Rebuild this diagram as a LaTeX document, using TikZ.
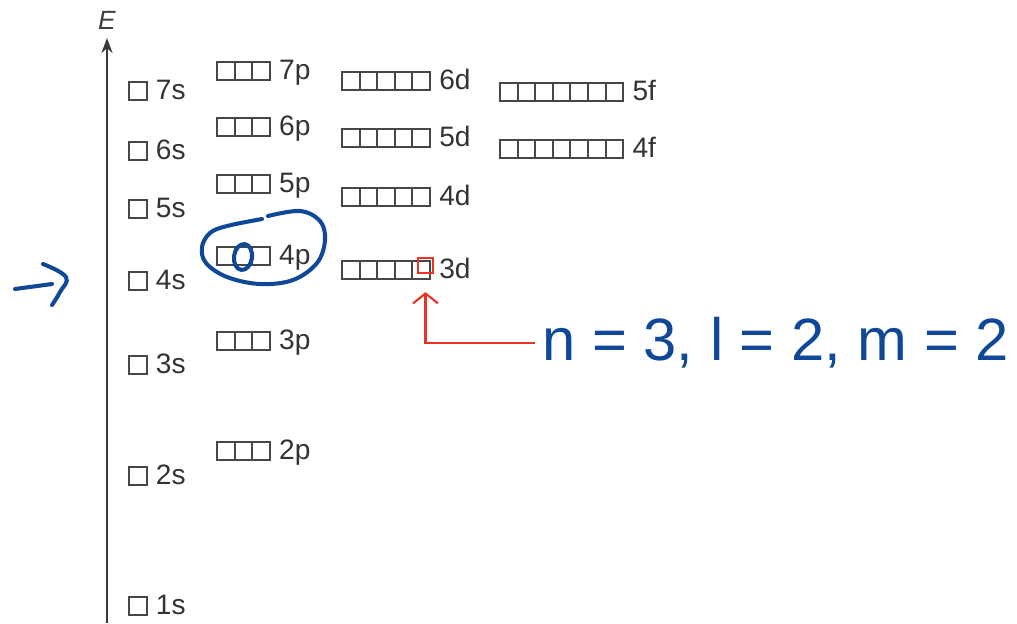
\documentclass[tikz,border=0pt]{standalone}
\usepackage{fontspec}
\setmainfont{Liberation Sans}
\usetikzlibrary{arrows.meta}
\definecolor{pen}{RGB}{14,72,150}
\definecolor{redmark}{RGB}{232,52,40}

% one row of orbital boxes: name, x, y, boxes, label
\newcommand{\orbrow}[5]{%
  \foreach \k in {1,...,#4}
    \draw[orb] ({#2+(\k-1)*17.6},{#3-8.6}) rectangle ++(17.6,17.2);
  \node[lbl] (#1) at ({#2+#4*17.6+9},{#3+8.5}) {#5};
}

\begin{document}
\begin{tikzpicture}[x=0.02cm,y=-0.02cm,
  orb/.style={draw=black!72,line width=1.1pt},
  lbl/.style={anchor=base west,inner sep=0pt,text=black!80,font=\fontsize{16}{18}\selectfont},
  ink/.style={draw=pen,line width=2.3pt,line cap=round,line join=round}]

\useasboundingbox (0,0) rectangle (1017,623);

% energy axis
\draw[black!78,line width=1.4pt,-{Stealth[length=3mm,width=2.2mm]}] (107,623) -- (107,38);
\node[text=black!75,font=\fontsize{15}{17}\selectfont\itshape] (E) at (107,20) {E};

% s levels
\orbrow{s7}{129}{91}{1}{7s}
\orbrow{s6}{129}{151}{1}{6s}
\orbrow{s5}{129}{209}{1}{5s}
\orbrow{s4}{129}{281}{1}{4s}
\orbrow{s3}{129}{365}{1}{3s}
\orbrow{s2}{129}{476}{1}{2s}
\orbrow{s1}{129}{606}{1}{1s}

% p levels
\orbrow{p7}{217}{71}{3}{7p}
\orbrow{p6}{217}{127}{3}{6p}
\orbrow{p5}{217}{184}{3}{5p}
\orbrow{p4}{217}{256}{3}{4p}
\orbrow{p3}{217}{341}{3}{3p}
\orbrow{p2}{217}{451}{3}{2p}

% d levels
\orbrow{d6}{342}{81}{5}{6d}
\orbrow{d5}{342}{138}{5}{5d}
\orbrow{d4}{342}{197}{5}{4d}
\orbrow{d3}{342}{270}{5}{3d}

% f levels
\orbrow{f5}{500}{92}{7}{5f}
\orbrow{f4}{500}{149}{7}{4f}

% hand notes
\draw[ink] plot[smooth,tension=0.6] coordinates {(268,216) (300,211) (320,221) (325,240) (317,263) (293,280) (260,284) (227,277) (206,263) (202,247) (210,233) (227,226) (262,219)};
\draw[ink,rotate around={-8:(243,257)}] (243,257) ellipse [x radius=9, y radius=13];
\draw[ink] (15,289) -- (52,284);
\draw[ink] plot[smooth,tension=0.7] coordinates {(43,264) (66,277) (60,292) (52,305)};

\node[draw=redmark,line width=1.2pt,minimum size=0.3cm,inner sep=0pt] (redbox) at (425.5,265.5) {};
\node[text=pen,anchor=west,inner sep=4pt,font=\fontsize{34}{36}\selectfont] (note) at (535,343) {n = 3, l = 2, m = 2};
\draw[redmark,line width=1.2pt,-{Straight Barb[length=2mm,width=5mm]},shorten >=0.36cm] (note.west) -| (redbox.south);

\end{tikzpicture}
\end{document}
